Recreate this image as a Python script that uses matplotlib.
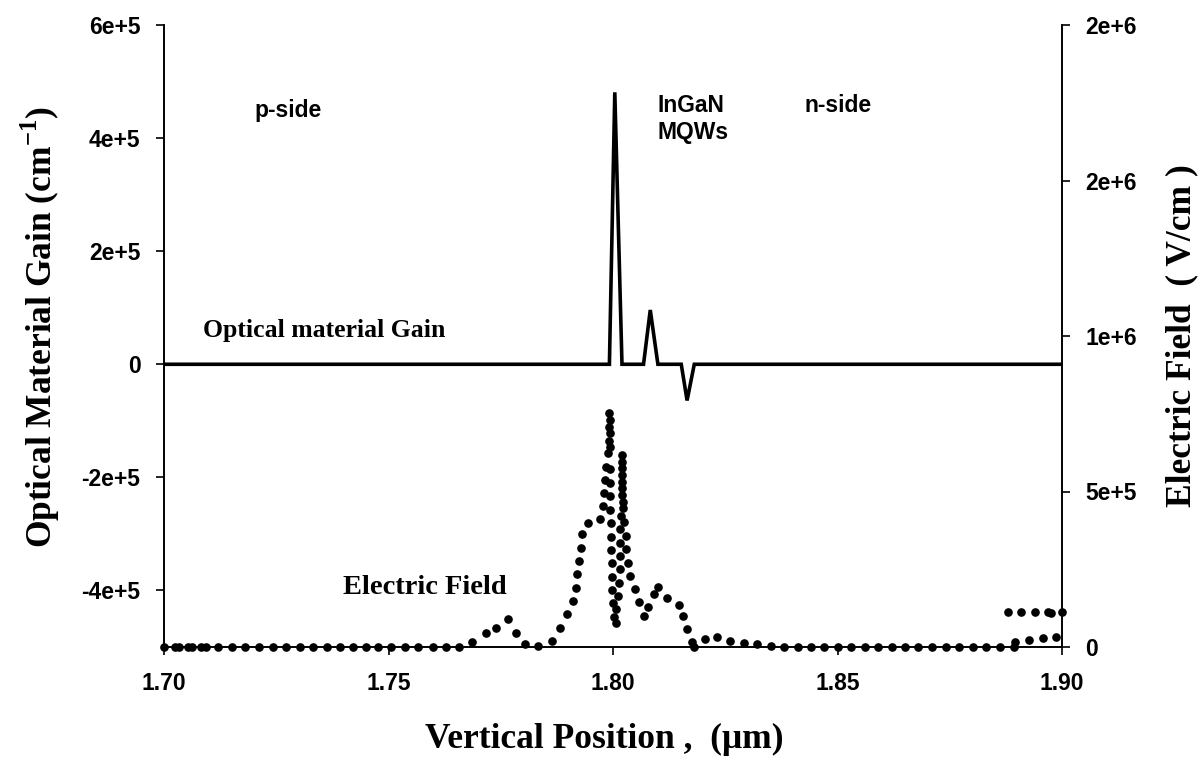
import matplotlib
matplotlib.use("Agg")
import matplotlib.pyplot as plt
from matplotlib.ticker import FuncFormatter

plt.rcParams["mathtext.fontset"] = "custom"
plt.rcParams["mathtext.rm"] = "Liberation Serif:bold"
plt.rcParams["mathtext.bf"] = "Liberation Serif:bold"

# Optical material gain (cm^-1) along the vertical position (um)
gain_x = [1.700, 1.7992, 1.8004, 1.8020, 1.8068, 1.8083, 1.8100,
          1.8152, 1.8165, 1.8181, 1.900]
gain_y = [0, 0, 4.81e5, 0, 0, 0.96e5, 0, 0, -0.64e5, 0, 0]

# Electric field (V/cm) sampled along the vertical position (um)
field_x = [
    1.7000, 1.7025, 1.7034, 1.7053, 1.7062, 1.7083, 1.7093, 1.7121, 1.7151,
    1.7181, 1.7211, 1.7242, 1.7272, 1.7302, 1.7332, 1.7362, 1.7391, 1.7422,
    1.7449, 1.7477, 1.7506, 1.7536, 1.7566, 1.7598, 1.7627, 1.7657,
    1.7687, 1.7718, 1.7739, 1.7766, 1.7784, 1.7804, 1.7832,
    1.7864, 1.7882, 1.7898, 1.7911, 1.7917, 1.7920, 1.7924, 1.7928, 1.7931,
    1.7944, 1.7971, 1.7977, 1.7979, 1.7982, 1.7985, 1.7988, 1.7990, 1.7991,
    1.7992,
    1.7993, 1.7993, 1.7993, 1.7994, 1.7993, 1.7993, 1.7994, 1.7996, 1.7996,
    1.7996, 1.7997, 1.7998, 1.7998, 1.8001, 1.8002, 1.8007,
    1.8020, 1.8020, 1.8020, 1.8020, 1.8020, 1.8020, 1.8021, 1.8022, 1.8022,
    1.8018, 1.8025, 1.8016, 1.8028, 1.8016, 1.8030, 1.8016, 1.8033, 1.8016,
    1.8038, 1.8013, 1.8048, 1.8011, 1.8059, 1.8007, 1.8069,
    1.8079, 1.8092, 1.8100, 1.8121, 1.8147, 1.8156, 1.8165, 1.8176, 1.8180,
    1.8204, 1.8232, 1.8261, 1.8291, 1.8321, 1.8351,
    1.8381, 1.8411, 1.8440, 1.8470, 1.8502, 1.8531, 1.8561, 1.8591, 1.8621,
    1.8650, 1.8680, 1.8711, 1.8741, 1.8771, 1.8801, 1.8830, 1.8862, 1.8892,
    1.8896, 1.8927, 1.8957, 1.8987,
    1.8880, 1.8909, 1.8940, 1.8969, 1.8976, 1.9000,
]
field_y = [
    0, 0, 0, 0, 0, 0, 0, 0, 0,
    0, 0, 0, 0, 0, 0, 0, 0, 0,
    0, 0, 0, 0, 0, 0, 0, 0,
    1.7e4, 4.4e4, 6.1e4, 8.9e4, 4.6e4, 0.9e4, 0.2e4,
    1.9e4, 6.1e4, 10.6e4, 14.8e4, 19.1e4, 23.4e4, 27.6e4, 31.9e4, 36.2e4,
    39.9e4, 41.1e4, 45.3e4, 49.6e4, 53.7e4, 58.0e4, 62.3e4, 66.3e4, 70.8e4,
    75.1e4,
    73.0e4, 68.8e4, 64.3e4, 57.1e4, 52.8e4, 48.6e4, 44.1e4, 39.8e4, 35.5e4,
    31.2e4, 26.9e4, 22.6e4, 18.3e4, 14.1e4, 9.7e4, 7.8e4,
    61.7e4, 59.6e4, 57.4e4, 55.3e4, 53.2e4, 51.0e4, 48.9e4, 46.7e4, 44.6e4,
    42.1e4, 40.3e4, 37.8e4, 35.7e4, 33.5e4, 31.4e4, 29.3e4, 27.1e4, 25.0e4,
    22.9e4, 20.7e4, 18.6e4, 16.4e4, 14.4e4, 12.1e4, 10.1e4,
    12.8e4, 17.0e4, 19.4e4, 15.7e4, 13.5e4, 10.1e4, 5.8e4, 1.7e4, 0,
    2.7e4, 3.2e4, 1.9e4, 1.4e4, 0.9e4, 0.3e4,
    0, 0, 0, 0, 0, 0, 0, 0, 0,
    0, 0, 0, 0, 0, 0, 0, 0, 0,
    1.7e4, 2.3e4, 2.8e4, 3.1e4,
    11.2e4, 11.2e4, 11.2e4, 11.2e4, 11.0e4, 11.3e4,
]

x_ticks = [1.70, 1.75, 1.80, 1.85, 1.90]
x_ticklabels = ["1.70", "1.75", "1.80", "1.85", "1.90"]
gain_ticks = [-4e5, -2e5, 0, 2e5, 4e5, 6e5]
field_ticks = [0, 5e5, 1e6, 1.5e6, 2e6]


def sci_label(v, pos=None):
    if v == 0:
        return "0"
    s = f"{v:.0e}"
    mant, exp = s.split("e")
    return f"{mant}e{exp[0]}{int(exp[1:])}"


tick_font = dict(family="Liberation Sans", weight="bold", size=16.5)
label_font = dict(family="Liberation Serif", weight="bold", size=25.5)

fig = plt.figure(figsize=(12.04, 7.61), dpi=100)
ax = fig.add_axes([164 / 1204, 1 - 647 / 761, (1062 - 164) / 1204, (647 - 25) / 761])
ax2 = ax.twinx()

ax.plot(gain_x, gain_y, color="black", lw=2.6, solid_joinstyle="miter", zorder=3)
ax2.plot(field_x, field_y, ls="none", marker="o", ms=5.2, color="black",
         clip_on=False, zorder=3)

ax.set_xlim(1.70, 1.90)
ax.set_ylim(-5e5, 6e5)
ax2.set_ylim(0, 2e6)

ax.set_xticks(x_ticks)
ax.set_xticklabels(x_ticklabels)
ax.set_yticks(gain_ticks)
ax.yaxis.set_major_formatter(FuncFormatter(sci_label))
ax2.set_yticks(field_ticks)
ax2.yaxis.set_major_formatter(FuncFormatter(sci_label))

for a in (ax, ax2):
    a.spines["top"].set_visible(False)
    for sp in a.spines.values():
        sp.set_linewidth(1.2)
    a.tick_params(direction="out", length=6, width=1.2)
    for lab in a.get_xticklabels() + a.get_yticklabels():
        lab.set(**tick_font)
ax.tick_params(axis="y", pad=11)
ax2.tick_params(axis="y", pad=11)
ax.tick_params(axis="x", pad=12)

ax.set_xlabel("Vertical Position ,  (\u03bcm)", va="center", **label_font)
ax.set_ylabel("Optical Material Gain (cm$^{\\mathbf{-1}}$)", va="center", **label_font)
ax2.set_ylabel("Electric Field  ( V/cm )", va="center", rotation=90, **label_font)
ax.xaxis.set_label_coords(0.49, -0.148)
ax.yaxis.set_label_coords(-0.138, 0.515)
ax2.yaxis.set_label_coords(1.1336, 0.5)

ax.text(1.7276, 4.49e5, "p-side", ha="center", va="center", **tick_font)
ax.text(1.8098, 4.58e5, "InGaN", ha="left", va="center", **tick_font)
ax.text(1.8098, 4.10e5, "MQWs", ha="left", va="center", **tick_font)
ax.text(1.8502, 4.58e5, "n-side", ha="center", va="center", **tick_font)
ax.text(1.7087, 0.6e5, "Optical material Gain", ha="left", va="center",
        family="Liberation Serif", weight="bold", size=18.5)
ax.text(1.7398, -3.94e5, "Electric Field", ha="left", va="center",
        family="Liberation Serif", weight="bold", size=20.5)

fig.savefig("out.png", dpi=100)
